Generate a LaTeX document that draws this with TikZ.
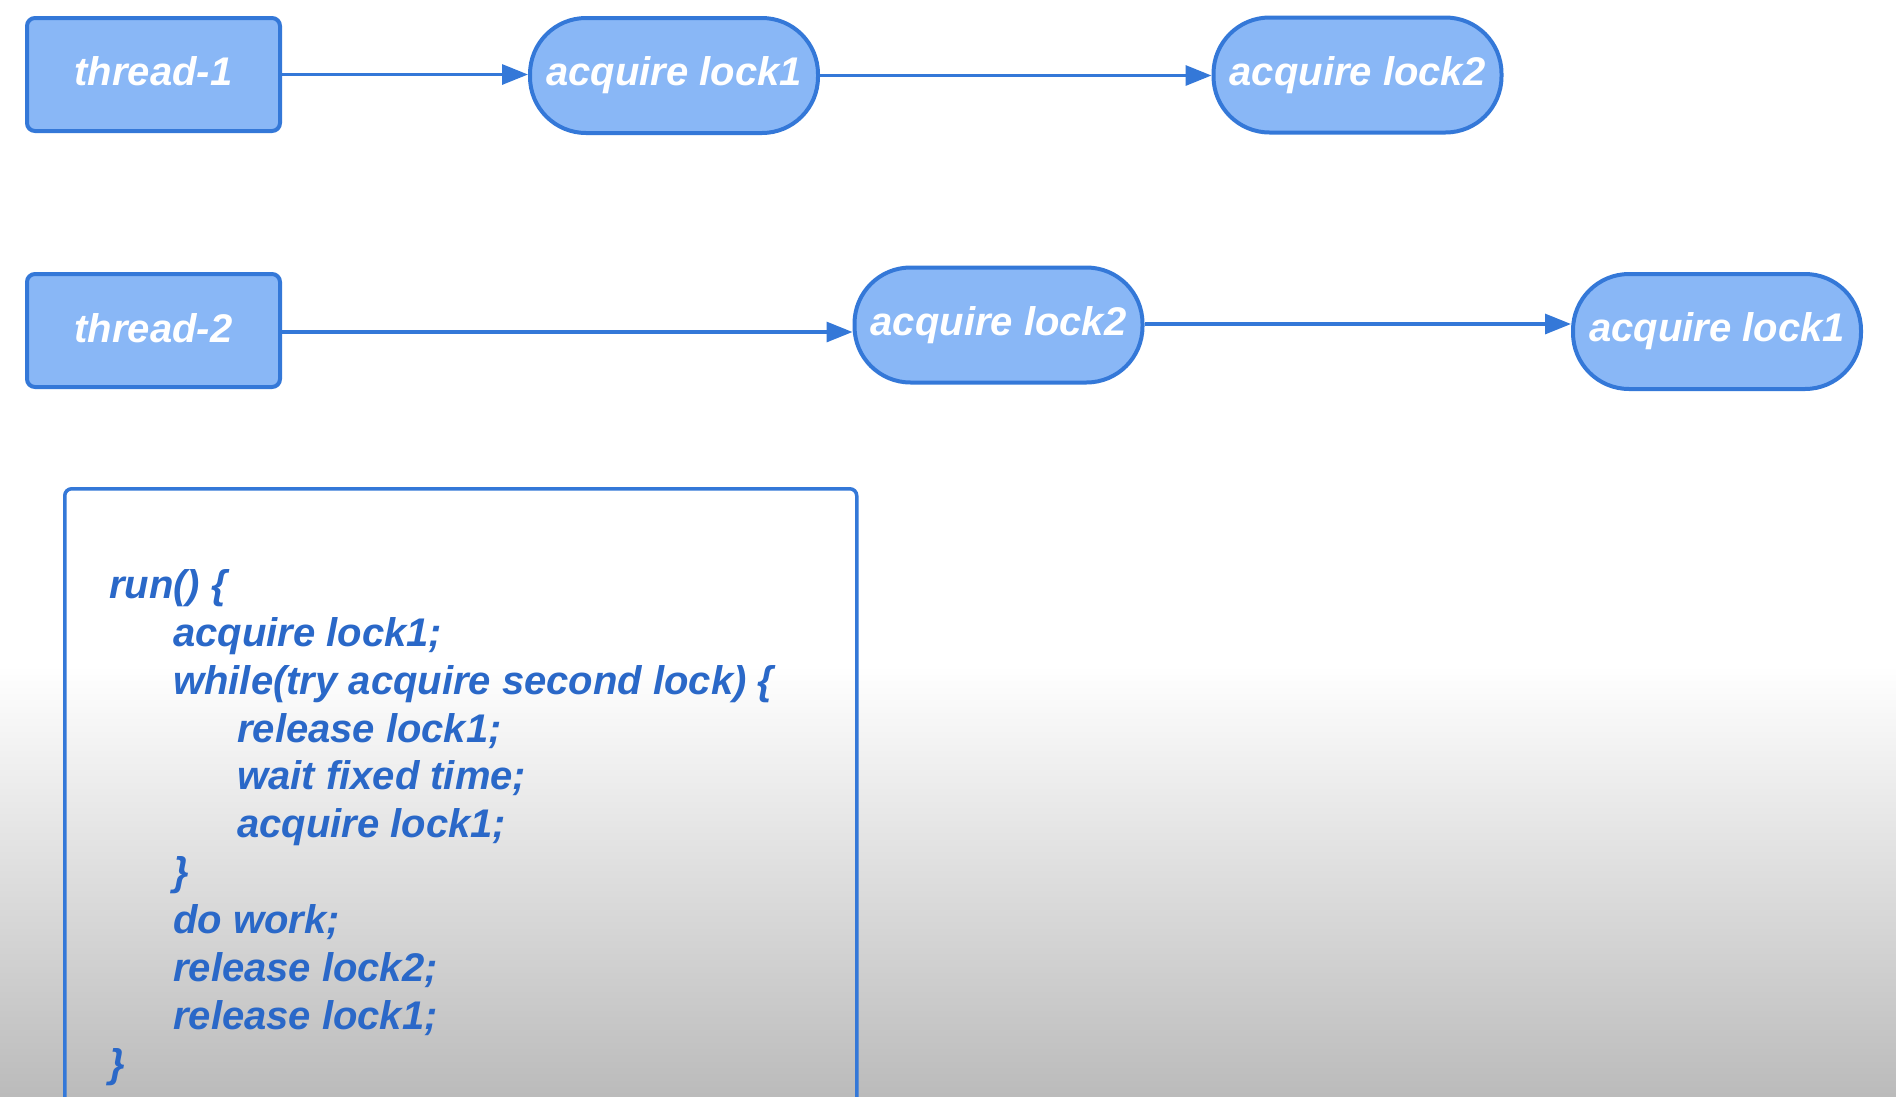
\documentclass[tikz,border=0pt]{standalone}
\usepackage{fontspec}
\setmainfont{Liberation Sans}
\usetikzlibrary{arrows.meta}
\definecolor{nodefill}{RGB}{137,183,246}
\definecolor{nodeline}{RGB}{52,120,216}
\definecolor{codeblue}{RGB}{42,104,200}
\definecolor{bggray}{RGB}{187,187,187}
\begin{document}
\begin{tikzpicture}[x=1pt,y=-1pt,
  font=\fontsize{40}{48}\selectfont\bfseries\itshape,
  threadbox/.style={draw=nodeline, fill=nodefill, line width=4pt, rounded corners=8pt,
    minimum width=253pt, minimum height=113pt, text=white, inner sep=0pt},
  lockpill/.style={draw=nodeline, fill=nodefill, line width=4pt, rounded corners=56pt,
    minimum width=288pt, minimum height=115pt, text=white, inner sep=0pt},
  link/.style={draw=nodeline, line width=3.2pt, -{Triangle[length=26pt,width=20pt]}},
  codebox/.style={draw=nodeline, line width=3.5pt, rounded corners=7pt, inner sep=0pt,
    minimum width=792pt, minimum height=650pt, anchor=north west},
  codeline/.style={anchor=base west, text=codeblue, inner sep=0pt}]
\useasboundingbox (0,0) rectangle (1896,1096);
\clip (0,0) rectangle (1896,1096);
\fill[white] (0,0) rectangle (1896,1096);
\shade[top color=white, bottom color=bggray] (0,665) rectangle (1896,1096);

% row 1
\node[threadbox] (t1) at (153.5,74.5) {\raisebox{6pt}{thread-1}};
\node[lockpill] (l1a) at (674,75.5) {acquire lock1};
\node[lockpill] (l2a) at (1357.5,75) {acquire lock2};
\draw[link] (t1.east) -- (t1.east -| l1a.west);
\draw[link] (l1a.east) -- (l1a.east -| l2a.west);

% row 2
\node[threadbox] (t2) at (153.5,330.5) {\raisebox{6pt}{thread-2}};
\node[lockpill] (l2b) at (998.5,325) {acquire lock2};
\node[lockpill] (l1b) at (1717,331.5) {acquire lock1};
\draw[link] ([yshift=-1.5pt]t2.east) -- ([yshift=-1.5pt]t2.east -| l2b.west);
\draw[link] ([yshift=1pt]l2b.east) -- ([yshift=1pt]l2b.east -| l1b.west);

% code box
\node[codebox] (code) at (63,487) {};
\node[codeline] (c0) at (109,598) {run() \{};
\node[codeline] (c1) at (173,646) {acquire lock1;};
\node[codeline] (c2) at (173,694) {while(try acquire second lock) \{};
\node[codeline] (c3) at (237,742) {release lock1;};
\node[codeline] (c4) at (237,789) {wait fixed time;};
\node[codeline] (c5) at (237,837) {acquire lock1;};
\node[codeline] (c6) at (173,885) {\}};
\node[codeline] (c7) at (173,933) {do work;};
\node[codeline] (c8) at (173,981) {release lock2;};
\node[codeline] (c9) at (173,1029) {release lock1;};
\node[codeline] (c10) at (109,1077) {\}};
\end{tikzpicture}
\end{document}
